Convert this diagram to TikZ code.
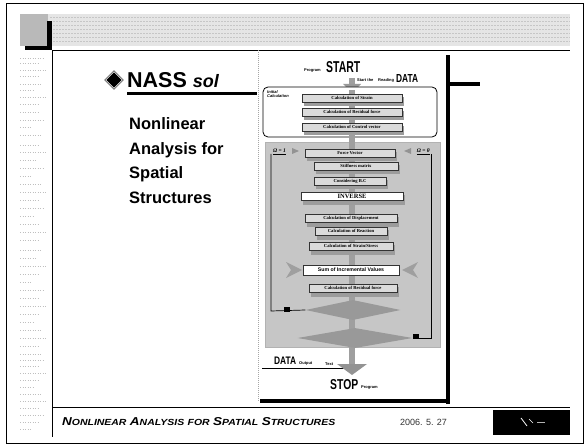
\documentclass[tikz,border=0pt]{standalone}
\usepackage{fontspec}
\setmainfont{Liberation Serif}
\setsansfont{Liberation Sans}
\usepackage{graphicx}
\usetikzlibrary{shapes.geometric}
\newcommand\myfsc[2]{{\fontsize{11}{11}\selectfont #1}{\fontsize{8.5}{8.5}\selectfont #2}}
% shadowed box: #1 style, #2 name, #3 cx, #4 cy, #5 width, #6 text
\newcommand\shbox[6]{%
  \fill[gray!78] ({#3-#5/2+2},{#4-1}) rectangle ({#3+#5/2+2},{#4+8.5});
  \node[#1, minimum width=#5pt] (#2) at (#3,#4) {#6};}
\begin{document}
\begin{tikzpicture}[x=1pt,y=-1pt,
  calcbox/.style={draw=black!80, line width=0.4pt, fill=gray!28, minimum height=7.5pt, inner sep=0pt,
     font=\fontsize{4.6}{5}\selectfont\bfseries},
  whitebox/.style={calcbox, fill=white},
  decision/.style={diamond, fill=gray!80, inner sep=0pt},
  loopline/.style={line width=0.7pt, black},
  tinylabel/.style={inner sep=0pt, font=\sffamily\bfseries\fontsize{4}{4.5}\selectfont},
  lefttext/.style={anchor=base west, inner sep=0pt, font=\sffamily\bfseries\fontsize{16.5}{18}\selectfont}
]
\useasboundingbox (0,0) rectangle (588,446);
\fill[white] (0,0) rectangle (588,446);
% outer frame
\draw[line width=0.8pt] (6,3) rectangle (583,443);
% banner
\fill[gray!20] (20,14) rectangle (570,46);
\foreach \yy in {17,21,25,29,33,37,41} {\draw[gray!45, line width=0.5pt, dash pattern=on 2pt off 1pt] (50,\yy) -- (570,\yy);}
\fill[gray!55] (20,14) rectangle (48,46);
\fill[black] (47,21) rectangle (52,50);
\fill[black] (25,46) rectangle (52,50);
\draw[line width=0.6pt] (52,50) -- (570,50);
\draw[line width=0.6pt] (52,50) -- (52,437);
% left margin faint marks
\foreach \yy/\ll in {58/24,63/18,70/26,76/20,84/22,90/14,97/26,104/20,112/18,120/24,127/12,135/22,
   145/20,152/26,160/16,168/24,176/12,184/22,192/26,200/18,208/24,216/14,224/20,232/26,240/18,
   250/22,258/16,266/26,274/20,282/12,290/24,298/18,306/26,314/20,322/14,330/22,338/26,346/18,
   354/22,360/24,366/18,373/26,380/20,387/14,394/22,401/26,408/18,415/24,422/20,429/12} {
  \draw[gray!50, line width=0.5pt, dash pattern=on 1pt off 1.5pt] (20,\yy) -- ++(\ll,0);}
% footer
\draw[line width=0.6pt] (52,407) -- (570,407);
\node[anchor=base west, inner sep=0pt] (foot) at (62,425)
  {\resizebox{273pt}{8pt}{\sffamily\bfseries\itshape \myfsc{N}{ONLINEAR} \myfsc{A}{NALYSIS} \myfsc{}{FOR} \myfsc{S}{PATIAL} \myfsc{S}{TRUCTURES}}};
\node[anchor=base west, inner sep=0pt, font=\sffamily\fontsize{9}{9}\selectfont, text=black!80] (date) at (400,425) {2006. 5. 27};
\fill[black] (493,410) rectangle (570,435);
\draw[white, line width=0.8pt] (521,418) -- (527,426);
\draw[white, line width=0.6pt] (529,419) -- (533,423);
\draw[white!70!black, line width=0.5pt] (537,422) -- (545,422);

% left title
\node[diamond, fill=black, draw=black, double=white, double distance=0.8pt, inner sep=0pt, minimum width=17pt, minimum height=17pt] (dia) at (114,80) {};
\node[anchor=base west, inner sep=0pt, font=\sffamily\bfseries\fontsize{21.5}{24}\selectfont] (nass) at (127,88) {NASS \textit{\fontsize{18}{20}\selectfont sol}};
\draw[line width=3pt] (127,94) -- (257,94);
\node[lefttext] (t1) at (129,130) {Nonlinear};
\node[lefttext] (t2) at (129,154.5) {Analysis for};
\node[lefttext] (t3) at (129,179) {Spatial};
\node[lefttext] (t4) at (129,203.5) {Structures};

% flowchart frame
\draw[gray!70, line width=0.6pt, dash pattern=on 1pt off 1pt] (258,50) -- (258,401);
\fill[black] (446,55) rectangle (450,404);
\fill[black] (450,82) rectangle (480,86);
\fill[black] (260,399) rectangle (450,403);

% spine
\draw[gray!75, line width=6pt] (352,78) -- (352,366);

% start
\node[anchor=base west, tinylabel] (prog1) at (304,72) {Program};
\node[anchor=base west, inner sep=0pt] (start) at (326,73) {\resizebox{34pt}{11pt}{\sffamily\bfseries START}};
\node[anchor=base west, tinylabel] (stt) at (357,82) {Start the};
\node[anchor=base west, tinylabel] (rd) at (378,82) {Reading};
\node[anchor=base west, inner sep=0pt] (data1) at (396,83) {\resizebox{22pt}{8pt}{\sffamily\bfseries DATA}};
\fill[gray!80] (343,84) -- (361,84) -- (352,93) -- cycle;

% initial calculation
\draw[rounded corners=5pt, line width=0.8pt, fill=white] (263,87) rectangle (437,137);
\draw[gray!75, line width=6pt] (352,90) -- (352,140);
\node[anchor=north west, inner sep=0pt, align=left, font=\sffamily\bfseries\itshape\fontsize{4}{4.5}\selectfont] (ic) at (267,90) {Initial\\Calculation};
\shbox{calcbox}{c1}{352}{98}{100}{Calculation of Strain}
\shbox{calcbox}{c2}{352}{112}{100}{Calculation of Residual force}
\shbox{calcbox}{c3}{352}{127}{100}{Calculation of Control vector}

% loop panel
\fill[gray!45] (265,142) rectangle (440,347);
\draw[gray!60, line width=0.4pt] (265,142) rectangle (440,347);
\draw[gray!75, line width=6pt] (352,134) -- (352,366);

\shbox{calcbox}{f1}{350}{153}{90}{Force Vector}
\shbox{calcbox}{f2}{356}{166}{84}{Stiffness matrix}
\shbox{calcbox}{f3}{350}{181}{72}{Considering B.C}
\fill[gray!78] (303,195) rectangle (405,205);
\node[whitebox, minimum width=102pt, minimum height=8.5pt, font=\fontsize{6.5}{7}\selectfont\bfseries] (inv) at (352,196) {INVERSE};
\shbox{calcbox}{f4}{351}{218}{92}{Calculation of Displacement}
\shbox{calcbox}{f5}{351}{231}{72}{Calculation of Reaction}
\shbox{calcbox}{f6}{351}{246}{84}{Calculation of Strain/Stress}
\fill[gray!75] (286,262) -- (302,270) -- (286,278) -- (291,270) -- cycle;
\fill[gray!75] (418,262) -- (402,270) -- (418,278) -- (413,270) -- cycle;
\node[whitebox, minimum width=96pt, minimum height=10pt, font=\sffamily\bfseries\fontsize{5.2}{6}\selectfont] (sum) at (351,270) {Sum of Incremental Values};
\shbox{calcbox}{f7}{353}{288}{88}{Calculation of Residual force}

\node[decision, minimum width=95pt, minimum height=20pt] (d1) at (353,310) {};
\node[decision, minimum width=115pt, minimum height=20pt] (d2) at (355,338) {};

% loop lines and labels
\node[anchor=base west, inner sep=0pt, font=\fontsize{5.5}{6}\selectfont\bfseries\itshape] (a1) at (273,153) {\underline{Ω = 1}};
\node[anchor=base east, inner sep=0pt, font=\fontsize{5.5}{6}\selectfont\bfseries\itshape] (a2) at (430,153) {\underline{Ω = θ}};
\fill[gray!85] (292,148) -- (299,151) -- (292,154) -- cycle;
\fill[gray!85] (411,148) -- (404,151) -- (411,154) -- cycle;
\coordinate (l1top) at (271,154);
\coordinate (l1bot) at (271,311);
\coordinate (r1top) at (431,154);
\coordinate (r1bot) at (431,338);
\draw[loopline] (l1top) -- (l1bot) -- (d1.west);
\draw[loopline] (r1top) -- (r1bot) -- (d2.east);
\fill[black] (284,307) rectangle (290,312);
\fill[black] (413,334) rectangle (419,339);

% output / stop
\node[anchor=base west, inner sep=0pt] (data2) at (274,364) {\resizebox{22pt}{7.5pt}{\sffamily\bfseries DATA}};
\node[anchor=base west, tinylabel] (out) at (299,364) {Output};
\node[anchor=base west, tinylabel] (txt) at (325,365) {Text};
\draw[line width=0.7pt] (262,368) -- (350,368);
\fill[gray!85] (337,364) -- (367,364) -- (352,375) -- cycle;
\node[anchor=base west, inner sep=0pt] (stop) at (330,389) {\resizebox{28pt}{10pt}{\sffamily\bfseries STOP}};
\node[anchor=base west, tinylabel] (prog2) at (361,388) {Program};
\end{tikzpicture}
\end{document}
